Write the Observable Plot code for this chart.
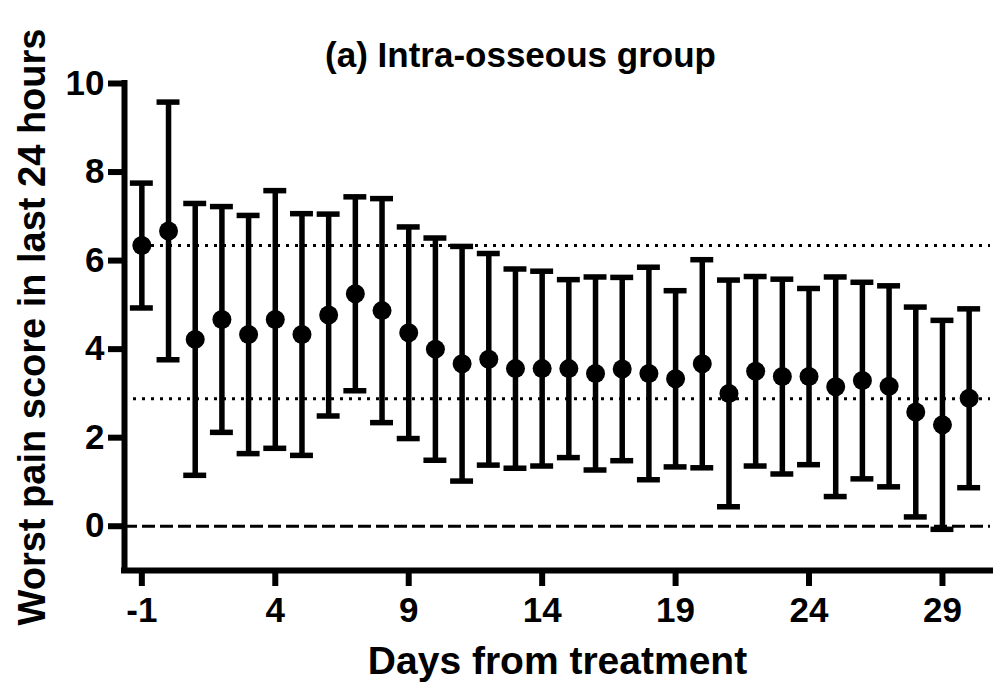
<!DOCTYPE html>
<html>
<head>
<meta charset="utf-8">
<script src="https://cdn.jsdelivr.net/npm/d3@7"></script>
<script src="https://cdn.jsdelivr.net/npm/@observablehq/plot@0.6"></script>
<style>
  html, body { margin: 0; padding: 0; background: #fff; }
</style>
</head>
<body>
<div id="chart"></div>
<script>
// Data (mean ± SD)
const days  = [-1, 0, 1, 2, 3, 4, 5, 6, 7, 8, 9, 10, 11, 12, 13, 14, 15, 16, 17, 18, 19, 20, 21, 22, 23, 24, 25, 26, 27, 28, 29, 30];
const means = [6.34, 6.67, 4.22, 4.67, 4.33, 4.67, 4.33, 4.77, 5.25, 4.87, 4.37, 4.00, 3.67, 3.77, 3.56, 3.56, 3.56, 3.45, 3.55, 3.45, 3.33, 3.67, 3.00, 3.50, 3.38, 3.38, 3.15, 3.29, 3.16, 2.58, 2.29, 2.89];
const sds   = [1.41, 2.91, 3.07, 2.55, 2.69, 2.91, 2.73, 2.28, 2.19, 2.53, 2.39, 2.51, 2.65, 2.39, 2.25, 2.20, 2.01, 2.18, 2.07, 2.40, 1.99, 2.35, 2.56, 2.14, 2.20, 1.99, 2.48, 2.22, 2.27, 2.37, 2.36, 2.02];
const dottedRefs = [6.34, 2.88];
const zeroRef = [0];
const xTicks = [-1, 4, 9, 14, 19, 24, 29];
const yTicks = [0, 2, 4, 6, 8, 10];
const xDomain = [-1.65, 30.8];
const yDomain = [-1, 10];
const titleText = "(a) Intra-osseous group";
const xLabel = "Days from treatment";
const yLabel = "Worst pain score in last 24 hours";

const data = days.map((d, i) => ({day: d, mean: means[i], lo: means[i] - sds[i], hi: means[i] + sds[i]}));
const capHalf = 0.43;
const font = "'Liberation Sans', Arial, Helvetica, sans-serif";

const chart = Plot.plot({
  width: 995,
  height: 686,
  marginLeft: 124,
  marginRight: 5,
  marginTop: 83,
  marginBottom: 116,
  style: {fontFamily: font, color: "black", background: "white", overflow: "visible"},
  x: {domain: xDomain},
  y: {domain: yDomain},
  marks: [
    // reference lines
    Plot.ruleY(dottedRefs, {stroke: "black", strokeWidth: 3, strokeDasharray: "3 6"}),
    Plot.ruleY(zeroRef, {stroke: "black", strokeWidth: 3, strokeDasharray: "13 5"}),
    // axis lines
    Plot.ruleX([xDomain[0]], {y1: yDomain[0], y2: yDomain[1], stroke: "black", strokeWidth: 6, strokeLinecap: "square"}),
    Plot.ruleY([yDomain[0]], {x1: xDomain[0], x2: xDomain[1], stroke: "black", strokeWidth: 6, strokeLinecap: "square"}),
    // error bars
    Plot.ruleX(data, {x: "day", y1: "lo", y2: "hi", stroke: "black", strokeWidth: 5.5}),
    Plot.ruleY(data, {y: "hi", x1: d => d.day - capHalf, x2: d => d.day + capHalf, stroke: "black", strokeWidth: 5.5}),
    Plot.ruleY(data, {y: "lo", x1: d => d.day - capHalf, x2: d => d.day + capHalf, stroke: "black", strokeWidth: 5.5}),
    // means
    Plot.dot(data, {x: "day", y: "mean", r: 9.5, fill: "black", stroke: null}),
    // axes
    Plot.axisY({ticks: yTicks, tickSize: 16, tickPadding: 4, strokeWidth: 6, fontSize: 35, fontWeight: "bold", label: null, tickFormat: d => String(d)}),
    Plot.axisX({ticks: xTicks, tickSize: 16, tickPadding: 11, strokeWidth: 6, fontSize: 35, fontWeight: "bold", label: null, tickFormat: d => String(d)}),
    // titles
    Plot.text([titleText], {frameAnchor: "top", lineAnchor: "middle", textAnchor: "middle", dx: -37, dy: -28, fontSize: 35, fontWeight: "bold", fill: "black"}),
    Plot.text([xLabel], {frameAnchor: "bottom", lineAnchor: "middle", textAnchor: "middle", dy: 91, fontSize: 39, fontWeight: "bold", fill: "black"}),
    Plot.text([yLabel], {frameAnchor: "left", lineAnchor: "middle", textAnchor: "middle", dx: -92, rotate: -90, fontSize: 38, fontWeight: "bold", fill: "black"})
  ]
});
document.getElementById("chart").appendChild(chart);
</script>
</body>
</html>
